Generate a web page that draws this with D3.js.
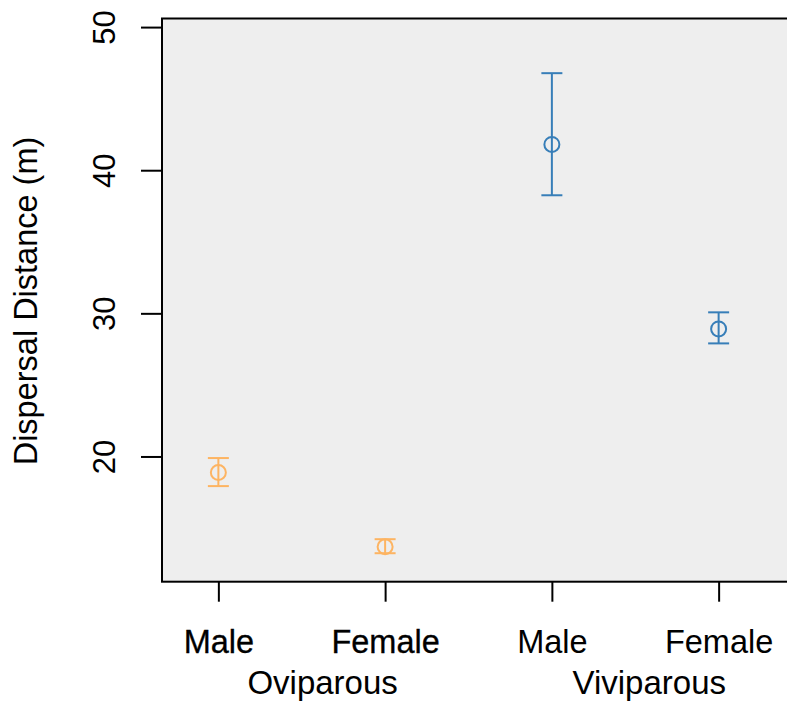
<!DOCTYPE html>
<html>
<head>
<meta charset="utf-8">
<script src="https://cdn.jsdelivr.net/npm/d3@7"></script>
<style>
  body { margin: 0; background: #fff; }
  svg text { font-family: "Liberation Sans", Arial, sans-serif; fill: #000; }
</style>
</head>
<body>
<svg id="chart" width="787" height="708"></svg>
<script>
const sexes = ['Male', 'Female', 'Male', 'Female'];
const groups = ['Oviparous', 'Viviparous'];
const groupPos = [1.625, 3.584];
const groupOf = [0, 0, 1, 1];
const means = [18.88, 13.69, 41.8, 28.91];
const lower = [17.93, 13.24, 38.25, 27.9];
const upper = [19.89, 14.22, 46.78, 30.07];
const groupColors = ['#fdb462', '#377eb8'];
const yTicks = [20, 30, 40, 50];

const plot = { left: 162, top: 18.5, bottom: 581.7, right: 787 };
const svg = d3.select('#chart');

const x = d3.scaleLinear().domain([0.662, 4.41]).range([plot.left, plot.right]);
const y = d3.scaleLinear().domain([11.25, 50.6]).range([plot.bottom, plot.top]);

// panel background + box (right side runs off the page)
svg.append('rect')
  .attr('x', plot.left).attr('y', plot.top)
  .attr('width', 900 - plot.left).attr('height', plot.bottom - plot.top)
  .attr('fill', '#eeeeee').attr('stroke', '#000').attr('stroke-width', 2);

// y axis
const ya = svg.append('g').attr('transform', `translate(${plot.left},0)`)
  .call(d3.axisLeft(y).tickValues(yTicks).tickSize(21).tickPadding(0).tickFormat(d3.format('d')));
ya.select('.domain').remove();
ya.selectAll('.tick line').attr('stroke', '#000').attr('stroke-width', 2);
ya.selectAll('.tick text')
  .attr('transform', 'rotate(-90)')
  .attr('x', 0).attr('y', -47).attr('dy', 0)
  .attr('text-anchor', 'middle')
  .style('font-size', '31px');

// x axis
const xa = svg.append('g').attr('transform', `translate(0,${plot.bottom})`)
  .call(d3.axisBottom(x).tickValues([1, 2, 3, 4]).tickSize(20).tickFormat((d) => sexes[d - 1]));
xa.select('.domain').remove();
xa.selectAll('.tick line').attr('stroke', '#000').attr('stroke-width', 2);
xa.selectAll('.tick text')
  .attr('y', 653 - plot.bottom).attr('dy', 0)
  .style('font-size', '32.5px')
  .attr('stroke', (d) => (groupOf[d - 1] === 0 ? '#000' : null))
  .attr('stroke-width', 0.3);

// group labels under each pair
svg.append('g').selectAll('text').data(groups).join('text')
  .attr('x', (d, i) => x(groupPos[i]))
  .attr('y', 694)
  .attr('text-anchor', 'middle')
  .style('font-size', '33px')
  .text((d) => d);

// y label
svg.append('text')
  .attr('transform', 'translate(37,301) rotate(-90)')
  .attr('text-anchor', 'middle')
  .style('font-size', '32.5px')
  .text('Dispersal Distance (m)');

// error bars
const capW = 10.5;
const pts = means.map((m, i) => ({ pos: i + 1, m, lo: lower[i], hi: upper[i], col: groupColors[groupOf[i]] }));
const eb = svg.append('g').selectAll('g').data(pts).join('g')
  .attr('stroke', (d) => d.col).attr('stroke-width', 2).attr('fill', 'none');
eb.append('line')
  .attr('x1', (d) => x(d.pos)).attr('x2', (d) => x(d.pos))
  .attr('y1', (d) => y(d.lo)).attr('y2', (d) => y(d.hi));
eb.append('line')
  .attr('x1', (d) => x(d.pos) - capW).attr('x2', (d) => x(d.pos) + capW)
  .attr('y1', (d) => y(d.hi)).attr('y2', (d) => y(d.hi));
eb.append('line')
  .attr('x1', (d) => x(d.pos) - capW).attr('x2', (d) => x(d.pos) + capW)
  .attr('y1', (d) => y(d.lo)).attr('y2', (d) => y(d.lo));
eb.append('circle')
  .attr('cx', (d) => x(d.pos)).attr('cy', (d) => y(d.m))
  .attr('r', 7.5);
</script>
</body>
</html>
